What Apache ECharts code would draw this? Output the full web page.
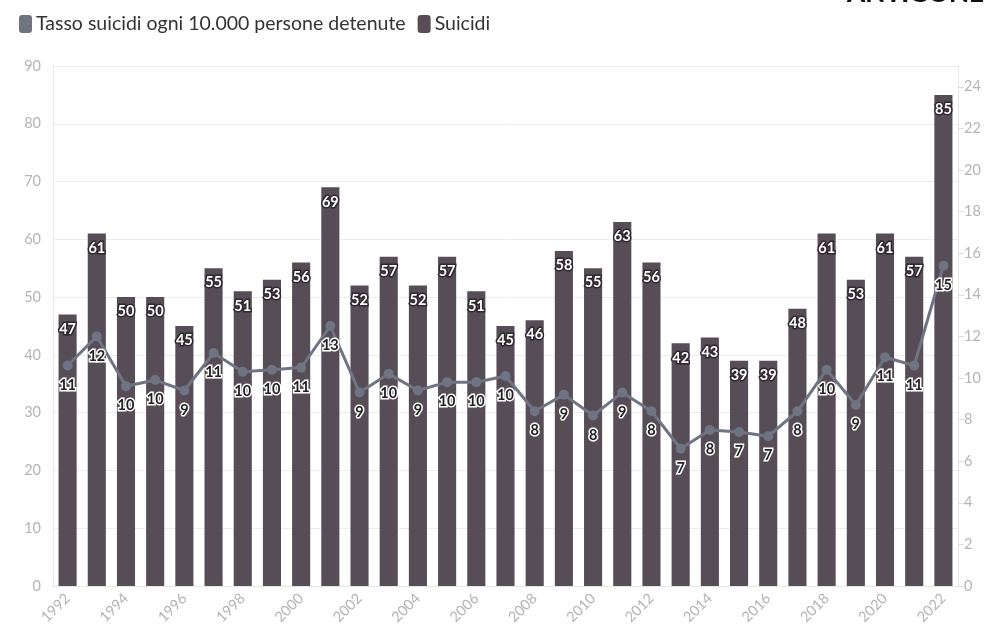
<!DOCTYPE html>
<html><head><meta charset="utf-8">
<script src="https://cdn.jsdelivr.net/npm/echarts@6/dist/echarts.min.js"></script>
<style>html,body{margin:0;padding:0;background:#fff}#c{width:992px;height:638px}</style>
</head><body><div id="c"></div>
<script>
const years = ['1992','1993','1994','1995','1996','1997','1998','1999','2000','2001','2002','2003','2004','2005','2006','2007','2008','2009','2010','2011','2012','2013','2014','2015','2016','2017','2018','2019','2020','2021','2022'];
const suicidi = [47,61,50,50,45,55,51,53,56,69,52,57,52,57,51,45,46,58,55,63,56,42,43,39,39,48,61,53,61,57,85];
const tasso = [10.6,12.0,9.6,9.9,9.4,11.2,10.3,10.4,10.5,12.5,9.3,10.2,9.4,9.8,9.8,10.1,8.4,9.2,8.2,9.3,8.4,6.6,7.5,7.4,7.2,8.4,10.4,8.7,11.0,10.6,15.4];
const leftTicks = {min:0, max:90, interval:10};
const rightTicks = {min:0, max:25, interval:2};
const FONT = 'Lato, "Noto Sans", sans-serif';
const chart = echarts.init(document.getElementById('c'));
chart.setOption({
  animation:false,
  textStyle:{fontFamily:FONT},
  graphic:[{type:'text', right:8, top:-19, style:{text:'ANTIGONE', font:'900 26px '+FONT, fill:'#111'}}],
  legend:{left:14, top:9, itemWidth:13, itemHeight:18, itemGap:12, icon:'roundRect',
    textStyle:{fontSize:19.5, color:'#333', fontFamily:FONT, padding:[0,0,0,-1]},
    data:['Tasso suicidi ogni 10.000 persone detenute','Suicidi']},
  grid:{left:53, right:34, top:66, bottom:52},
  xAxis:{type:'category', data:years,
    axisLine:{lineStyle:{color:'#e6e6e6'}},
    axisTick:{alignWithLabel:true, interval:0, length:6, lineStyle:{color:'#e6e6e6'}},
    axisLabel:{interval:1, rotate:45, color:'#b4b4b4', fontSize:14.5, margin:10}},
  yAxis:[
    {type:'value', min:leftTicks.min, max:leftTicks.max, interval:leftTicks.interval,
     axisLine:{show:true, lineStyle:{color:'#e6e6e6'}},
     axisTick:{show:false},
     axisLabel:{color:'#b4b4b4', fontSize:14.5, margin:12},
     splitLine:{lineStyle:{color:'#ececec'}}},
    {type:'value', min:rightTicks.min, max:rightTicks.max, interval:rightTicks.interval,
     axisLine:{show:true, lineStyle:{color:'#e6e6e6'}},
     axisTick:{show:true, length:6, lineStyle:{color:'#dcdcdc'}},
     axisLabel:{color:'#b4b4b4', fontSize:14.5, margin:6, showMaxLabel:false},
     splitLine:{show:false}}
  ],
  series:[
    {name:'Tasso suicidi ogni 10.000 persone detenute', type:'line', yAxisIndex:1, data:tasso,
     z:5, color:'#6f7482', symbol:'circle', symbolSize:10,
     lineStyle:{width:3, color:'#6f7482'}, itemStyle:{color:'#6f7482'},
     label:{show:true, position:'bottom', distance:7, formatter:p=>Math.round(p.value),
       color:'#222', fontWeight:'bold', fontSize:14.5, textBorderColor:'#fff', textBorderWidth:3}},
    {name:'Suicidi', type:'bar', data:suicidi, barWidth:'62%', color:'#564d56',
     itemStyle:{color:'#564d56'}, z:2,
     label:{show:true, position:'insideTop', distance:7, color:'#fff', fontWeight:'bold', fontSize:14.5,
       textBorderColor:'#2e272e', textBorderWidth:3}}
  ]
});
</script></body></html>
